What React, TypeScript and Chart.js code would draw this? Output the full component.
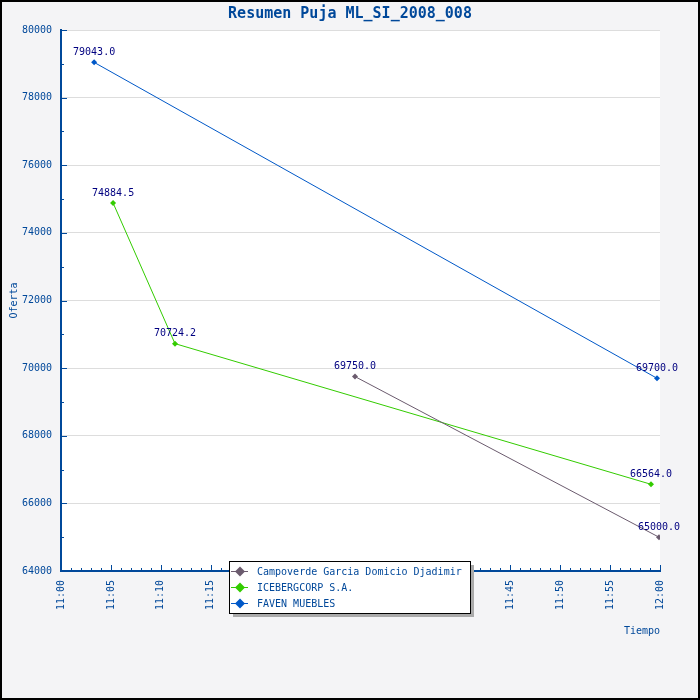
import React, { useEffect, useRef } from "react";
import { Chart, registerables, Plugin } from "chart.js";

Chart.register(...registerables);

// datos (hora de la oferta, valor)
const seriesNames = ["Campoverde Garcia Domicio Djadimir", "ICEBERGCORP S.A.", "FAVEN MUEBLES"];
const campoverdeTimes = ["11:29:27", "11:59:54"];
const campoverdeValues = [69750.0, 65000.0];
const icebergTimes = ["11:05:13", "11:11:25", "11:59:06"];
const icebergValues = [74884.5, 70724.2, 66564.0];
const favenTimes = ["11:03:19", "11:59:42"];
const favenValues = [79043.0, 69700.0];
const seriesColors = ["#6b5b6e", "#33cc00", "#0058c8"];

const yMin = 64000;
const yMax = 80000;
const yLabelStep = 2000;
const yMinorStep = 1000;
const xLabelStep = 5; // minutos
const startHour = 11;

const FONT = "'DejaVu Sans Mono', 'Liberation Mono', monospace";
const AXIS_BLUE = "#00489a";

// minutos desde las 11:00
const toMinutes = (t: string) => {
  const [h, m, s] = t.split(":").map(Number);
  return (h - startHour) * 60 + m + s / 60;
};
const toPoints = (times: string[], values: number[]) =>
  times.map((t, i) => ({ x: toMinutes(t), y: values[i] }));

const fmtTime = (min: number) => {
  const h = startHour + Math.floor(min / 60);
  const m = Math.round(min % 60);
  return `${h}:${m < 10 ? "0" + m : m}`;
};

const framePlugin: Plugin<"line"> = {
  id: "frame",
  beforeDraw(chart) {
    const { ctx, chartArea: a, width, height } = chart;
    ctx.save();
    ctx.fillStyle = "#f4f4f6";
    ctx.fillRect(0, 0, width, height);
    ctx.fillStyle = "#ffffff";
    ctx.fillRect(a.left, a.top, a.right - a.left, a.bottom - a.top);
    ctx.restore();
  },
  afterDraw(chart) {
    const { ctx, width, height } = chart;
    ctx.save();
    ctx.strokeStyle = "#000";
    ctx.lineWidth = 2;
    ctx.strokeRect(1, 1, width - 2, height - 2);
    ctx.restore();
  },
};

// marcas de eje hacia adentro, largas en las etiquetas
const innerTicksPlugin: Plugin<"line"> = {
  id: "innerTicks",
  afterDraw(chart) {
    const { ctx, chartArea: a } = chart;
    const xs = chart.scales.x;
    const ys = chart.scales.y;
    ctx.save();
    ctx.strokeStyle = AXIS_BLUE;
    ctx.lineWidth = 1;
    ctx.beginPath();
    for (let m = xs.min; m <= xs.max; m += 1) {
      const px = Math.round(xs.getPixelForValue(m)) + 0.5;
      const len = m % xLabelStep === 0 ? 6 : 3;
      ctx.moveTo(px, a.bottom);
      ctx.lineTo(px, a.bottom - len);
    }
    for (let v = yMin; v <= yMax; v += yMinorStep) {
      const py = Math.round(ys.getPixelForValue(v)) + 0.5;
      const len = v % yLabelStep === 0 ? 6 : 3;
      ctx.moveTo(a.left, py);
      ctx.lineTo(a.left + len, py);
    }
    ctx.stroke();
    ctx.restore();
  },
};

const valueLabelsPlugin: Plugin<"line"> = {
  id: "valueLabels",
  afterDatasetsDraw(chart) {
    const { ctx } = chart;
    ctx.save();
    ctx.font = `10px ${FONT}`;
    ctx.fillStyle = "#000080";
    ctx.textAlign = "center";
    ctx.textBaseline = "bottom";
    chart.data.datasets.forEach((ds, i) => {
      const meta = chart.getDatasetMeta(i);
      meta.data.forEach((el, j) => {
        const p = ds.data[j] as { x: number; y: number };
        ctx.fillText(p.y.toFixed(1), el.x, el.y - 5);
      });
    });
    ctx.restore();
  },
};

const boxLegendPlugin: Plugin<"line"> = {
  id: "boxLegend",
  afterDraw(chart) {
    const { ctx } = chart;
    const left = 229;
    const top = 561;
    const w = 241;
    const h = 52;
    ctx.save();
    ctx.fillStyle = "#aaaaaa";
    ctx.fillRect(left + 4, top + 4, w, h);
    ctx.fillStyle = "#ffffff";
    ctx.fillRect(left, top, w, h);
    ctx.strokeStyle = "#000";
    ctx.lineWidth = 1;
    ctx.strokeRect(left + 0.5, top + 0.5, w, h);
    ctx.font = `10px ${FONT}`;
    ctx.textAlign = "left";
    ctx.textBaseline = "middle";
    chart.data.datasets.forEach((ds, i) => {
      const cy = top + 10.5 + i * 16;
      const color = ds.borderColor as string;
      ctx.strokeStyle = color;
      ctx.beginPath();
      ctx.moveTo(left + 2, cy);
      ctx.lineTo(left + 19, cy);
      ctx.stroke();
      ctx.fillStyle = color;
      ctx.beginPath();
      ctx.moveTo(left + 11, cy - 5);
      ctx.lineTo(left + 16, cy);
      ctx.lineTo(left + 11, cy + 5);
      ctx.lineTo(left + 6, cy);
      ctx.closePath();
      ctx.fill();
      ctx.fillStyle = AXIS_BLUE;
      ctx.fillText(ds.label as string, left + 28, cy + 1);
    });
    ctx.restore();
  },
};

const App: React.FC = () => {
  const canvasRef = useRef<HTMLCanvasElement>(null);

  useEffect(() => {
    if (!canvasRef.current) return;
    const ctx = canvasRef.current.getContext("2d")!;

    const data = [
      toPoints(campoverdeTimes, campoverdeValues),
      toPoints(icebergTimes, icebergValues),
      toPoints(favenTimes, favenValues),
    ];

    const chart = new Chart(ctx, {
      type: "line",
      data: {
        datasets: seriesNames.map((name, i) => ({
          label: name,
          data: data[i],
          borderColor: seriesColors[i],
          backgroundColor: seriesColors[i],
          borderWidth: 1,
          pointStyle: "rectRot",
          pointRadius: 3,
          pointBorderWidth: 0,
          tension: 0,
        })),
      },
      options: {
        animation: false,
        responsive: true,
        maintainAspectRatio: false,
        layout: { padding: 0 },
        scales: {
          x: {
            type: "linear",
            min: 0,
            max: 60,
            afterFit: (s) => {
              s.height = 129;
            },
            border: { display: true, color: AXIS_BLUE, width: 2 },
            grid: { drawOnChartArea: false, drawTicks: false },
            ticks: {
              stepSize: xLabelStep,
              autoSkip: false,
              minRotation: 90,
              maxRotation: 90,
              padding: 9,
              color: AXIS_BLUE,
              font: { family: FONT, size: 10 },
              callback: (v) => fmtTime(Number(v)),
            },
            title: {
              display: true,
              text: "Tiempo",
              align: "end",
              color: AXIS_BLUE,
              font: { family: FONT, size: 10 },
              padding: { top: 0, bottom: 63 },
            },
          },
          y: {
            min: yMin,
            max: yMax,
            afterFit: (s) => {
              s.width = 61;
            },
            border: { display: true, color: AXIS_BLUE, width: 2 },
            grid: { color: "#dddddd", lineWidth: 1, drawTicks: false },
            ticks: {
              stepSize: yLabelStep,
              padding: 9,
              color: AXIS_BLUE,
              font: { family: FONT, size: 10 },
              callback: (v) => String(v),
            },
            title: {
              display: true,
              text: "Oferta",
              color: AXIS_BLUE,
              font: { family: FONT, size: 10 },
              padding: { top: 8, bottom: 0 },
            },
          },
          // margen derecho vacio (eje sin marcas)
          yRight: {
            position: "right",
            min: yMin,
            max: yMax,
            afterFit: (s) => {
              s.width = 40;
            },
            border: { display: false },
            grid: { display: false, drawTicks: false },
            ticks: { display: false },
          },
        },
        plugins: {
          legend: { display: false },
          tooltip: { enabled: false },
          title: {
            display: true,
            text: "Resumen Puja ML_SI_2008_008",
            color: AXIS_BLUE,
            font: { family: FONT, size: 15, weight: "bold" },
            padding: { top: 5, bottom: 7 },
          },
        },
      },
      plugins: [framePlugin, innerTicksPlugin, valueLabelsPlugin, boxLegendPlugin],
    });

    return () => {
      chart.destroy();
    };
  }, []);

  return (
    <div style={{ position: "fixed", left: 0, top: 0, width: 700, height: 700 }}>
      <canvas ref={canvasRef} />
    </div>
  );
};

export default App;
